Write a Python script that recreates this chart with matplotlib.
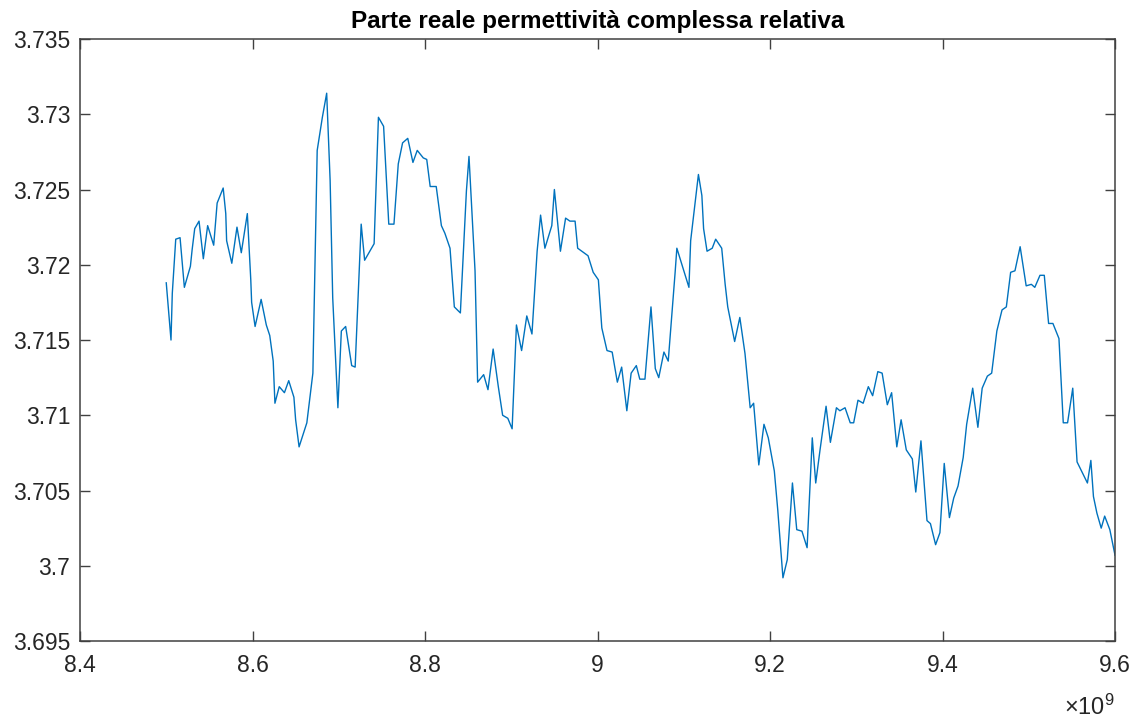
import matplotlib
matplotlib.use("Agg")
import matplotlib.pyplot as plt
import numpy as np
from matplotlib.ticker import FuncFormatter

# frequenza (GHz) e parte reale della permittività relativa
freq_ghz = [8.500, 8.5055, 8.507, 8.511, 8.516, 8.521, 8.528, 8.530, 8.533, 8.538,
            8.543, 8.548, 8.555, 8.559, 8.566, 8.569, 8.570, 8.576, 8.582, 8.587,
            8.594, 8.598, 8.599, 8.603, 8.610, 8.616, 8.620, 8.624, 8.626, 8.631,
            8.637, 8.642, 8.648, 8.650, 8.654, 8.663, 8.670, 8.675, 8.681, 8.686,
            8.690, 8.693, 8.699, 8.703, 8.708, 8.715, 8.719, 8.726, 8.730, 8.736,
            8.741, 8.746, 8.752, 8.758, 8.764, 8.769, 8.774, 8.780, 8.786, 8.791,
            8.798, 8.802, 8.806, 8.813, 8.819, 8.823, 8.829, 8.834, 8.841, 8.848,
            8.851, 8.858, 8.861, 8.868, 8.873, 8.879, 8.885, 8.890, 8.896, 8.901,
            8.906, 8.912, 8.918, 8.924, 8.930, 8.934, 8.939, 8.947, 8.950, 8.957,
            8.963, 8.968, 8.974, 8.977, 8.989, 8.995, 9.001, 9.005, 9.011, 9.017,
            9.023, 9.028, 9.034, 9.039, 9.045, 9.049, 9.055, 9.062, 9.067, 9.071,
            9.077, 9.082, 9.090, 9.092, 9.106, 9.108, 9.117, 9.121, 9.123, 9.127,
            9.133, 9.137, 9.144, 9.148, 9.151, 9.159, 9.165, 9.171, 9.177, 9.181,
            9.187, 9.193, 9.198, 9.205, 9.209, 9.215, 9.220, 9.226, 9.231, 9.237,
            9.243, 9.249, 9.253, 9.258, 9.265, 9.270, 9.277, 9.281, 9.287, 9.293,
            9.297, 9.302, 9.308, 9.314, 9.319, 9.325, 9.330, 9.336, 9.341, 9.347,
            9.352, 9.358, 9.365, 9.369, 9.375, 9.382, 9.386, 9.392, 9.397, 9.402,
            9.408, 9.413, 9.418, 9.424, 9.428, 9.435, 9.441, 9.446, 9.452, 9.457,
            9.463, 9.469, 9.474, 9.479, 9.484, 9.490, 9.497, 9.503, 9.507, 9.513,
            9.518, 9.523, 9.528, 9.535, 9.540, 9.545, 9.551, 9.556, 9.562, 9.568,
            9.572, 9.575, 9.579, 9.584, 9.588, 9.594, 9.600]

eps_re = [3.7188, 3.7150, 3.7181, 3.7217, 3.7218, 3.7185, 3.7199, 3.7210, 3.7224, 3.7229,
          3.7204, 3.7226, 3.7213, 3.7241, 3.7251, 3.7234, 3.7216, 3.7201, 3.7225, 3.7208,
          3.7234, 3.7190, 3.7175, 3.7159, 3.7177, 3.7160, 3.7153, 3.7136, 3.7108, 3.7119,
          3.7115, 3.7123, 3.7112, 3.7097, 3.7079, 3.7095, 3.7128, 3.7276, 3.7298, 3.7314,
          3.7256, 3.7178, 3.7105, 3.7156, 3.7159, 3.7133, 3.7132, 3.7227, 3.7203, 3.7209,
          3.7214, 3.7298, 3.7292, 3.7227, 3.7227, 3.7267, 3.7281, 3.7284, 3.7268, 3.7276,
          3.7271, 3.7270, 3.7252, 3.7252, 3.7226, 3.7221, 3.7211, 3.7172, 3.7168, 3.7249,
          3.7272, 3.7196, 3.7122, 3.7127, 3.7117, 3.7144, 3.7119, 3.7100, 3.7098, 3.7091,
          3.7160, 3.7143, 3.7166, 3.7154, 3.7209, 3.7233, 3.7211, 3.7226, 3.7250, 3.7209,
          3.7231, 3.7229, 3.7229, 3.7211, 3.7206, 3.7195, 3.7190, 3.7158, 3.7143, 3.7142,
          3.7122, 3.7132, 3.7103, 3.7128, 3.7133, 3.7124, 3.7124, 3.7172, 3.7131, 3.7125,
          3.7142, 3.7136, 3.7195, 3.7211, 3.7185, 3.7216, 3.7260, 3.7246, 3.7224, 3.7209,
          3.7211, 3.7217, 3.7211, 3.7187, 3.7172, 3.7149, 3.7165, 3.7141, 3.7105, 3.7108,
          3.7067, 3.7094, 3.7085, 3.7063, 3.7037, 3.6992, 3.7004, 3.7055, 3.7024, 3.7023,
          3.7012, 3.7085, 3.7055, 3.7077, 3.7106, 3.7082, 3.7105, 3.7103, 3.7105, 3.7095,
          3.7095, 3.7110, 3.7108, 3.7119, 3.7113, 3.7129, 3.7128, 3.7107, 3.7115, 3.7079,
          3.7097, 3.7077, 3.7071, 3.7049, 3.7083, 3.7030, 3.7028, 3.7014, 3.7022, 3.7068,
          3.7032, 3.7045, 3.7053, 3.7072, 3.7094, 3.7118, 3.7092, 3.7118, 3.7126, 3.7128,
          3.7156, 3.7170, 3.7172, 3.7195, 3.7196, 3.7212, 3.7186, 3.7187, 3.7185, 3.7193,
          3.7193, 3.7161, 3.7161, 3.7151, 3.7095, 3.7095, 3.7118, 3.7069, 3.7062, 3.7055,
          3.7070, 3.7046, 3.7035, 3.7025, 3.7033, 3.7024, 3.7007]

x_ticks = [8.4e9, 8.6e9, 8.8e9, 9.0e9, 9.2e9, 9.4e9, 9.6e9]
y_ticks = [3.695, 3.7, 3.705, 3.71, 3.715, 3.72, 3.725, 3.73, 3.735]

plt.rcParams['font.family'] = ['Liberation Sans', 'DejaVu Sans']
plt.rcParams['mathtext.fontset'] = 'custom'
plt.rcParams['mathtext.rm'] = 'Liberation Sans'

axcol = '#404040'
fig = plt.figure(figsize=(11.38, 7.2), dpi=100)
ax = fig.add_axes([0.0703, 0.1097, 0.9095, 0.8361])

f = np.array(freq_ghz) * 1e9
ax.plot(f, eps_re, color='#0072BD', lw=1.0)

ax.set_xlim(8.4e9, 9.6e9)
ax.set_ylim(3.695, 3.735)
ax.set_xticks(x_ticks)
ax.set_yticks(y_ticks)
ax.xaxis.set_major_formatter(FuncFormatter(lambda v, p: f"{v / 1e9:g}"))
ax.yaxis.set_major_formatter(FuncFormatter(lambda v, p: f"{v:g}"))

ax.tick_params(direction='in', length=7, width=1.0, colors=axcol,
               labelcolor='#262626', labelsize=16.5, top=True, right=True)
ax.tick_params(axis='x', pad=9)
ax.tick_params(axis='y', pad=7)
for s in ax.spines.values():
    s.set_color(axcol)
    s.set_linewidth(1.1)

ax.set_title('Parte reale permettività complessa relativa',
             fontsize=17.5, fontweight='bold', pad=8)
ax.text(1.0, -0.09, r'$\times\mathregular{10^9}$', transform=ax.transAxes,
        ha='right', va='top', fontsize=17, color='#262626')

fig.savefig('out.png', dpi=100)
